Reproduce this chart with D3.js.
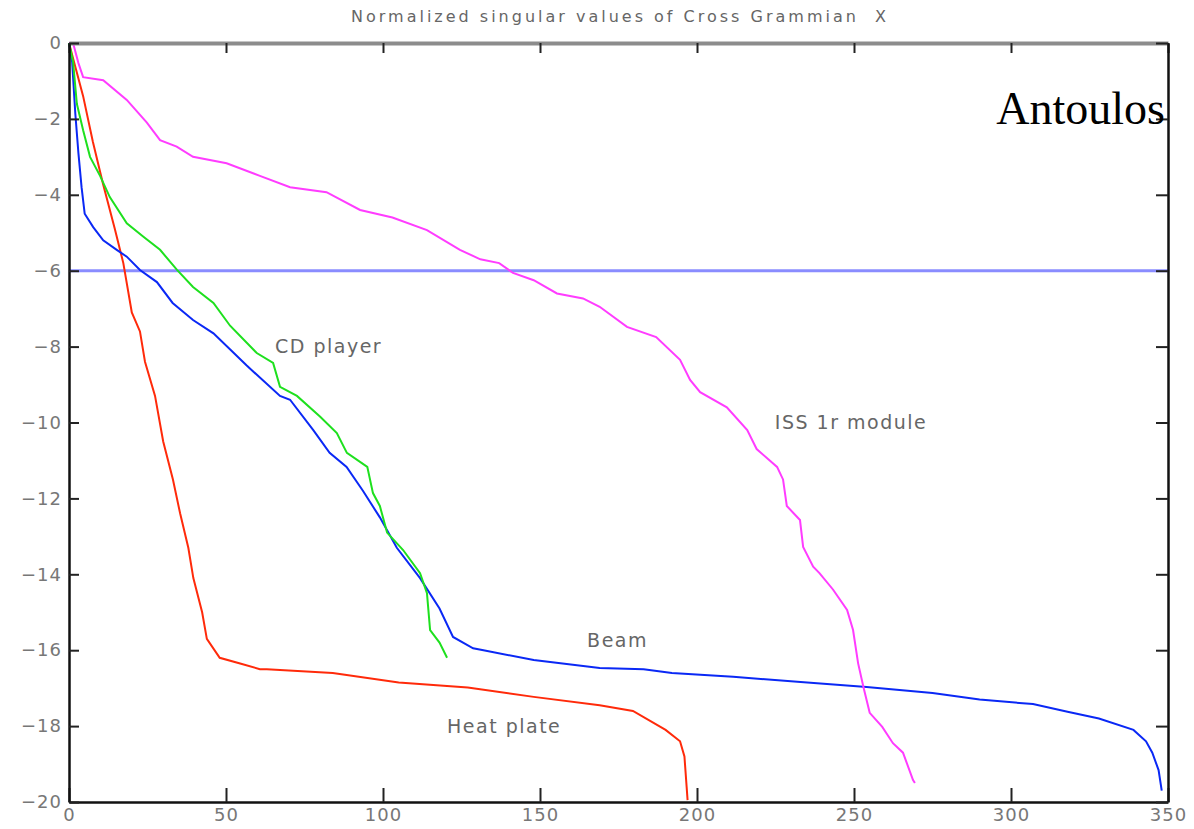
<!DOCTYPE html>
<html>
<head>
<meta charset="utf-8">
<script src="https://cdn.jsdelivr.net/npm/d3@7"></script>
<style>
  body { margin: 0; background: #fff; }
  svg { font-family: "DejaVu Sans", sans-serif; }
</style>
</head>
<body>
<div id="chart"></div>
<script>
// values: [index, log10 of normalized singular value]
const heatPlate = [[0,0],[4.5,-1.4],[7.6,-2.6],[10.8,-3.7],[14.6,-4.9],[17.3,-5.8],[20,-7.1],[22.6,-7.6],[24.2,-8.4],
  [27.4,-9.3],[30,-10.5],[33.1,-11.5],[35.4,-12.4],[38,-13.3],[39.6,-14.1],[42.4,-15.0],[43.9,-15.7],[48,-16.2],
  [54.5,-16.35],[60.8,-16.5],[63,-16.5],[84,-16.6],[105,-16.85],[127,-16.98],[148,-17.23],[169,-17.45],[179.6,-17.6],
  [190,-18.1],[194.6,-18.4],[196,-18.8],[196.7,-19.6],[197,-19.95]];
const beam = [[0,0],[1,-0.5],[2,-1.85],[3,-2.9],[4,-3.8],[5,-4.5],[7.7,-4.85],[10.9,-5.2],[15.2,-5.45],[18.4,-5.63],
  [22.6,-5.98],[28,-6.3],[33,-6.85],[39.5,-7.3],[46,-7.65],[56.6,-8.5],[67.2,-9.3],[70.4,-9.4],[77.8,-10.2],[83,-10.8],
  [88.4,-11.17],[93.6,-11.8],[99,-12.5],[104.4,-13.3],[111.8,-14.1],[118,-14.9],[122.3,-15.65],[128.7,-15.95],
  [132,-16.0],[148,-16.26],[169,-16.47],[183,-16.5],[192,-16.6],[211.5,-16.7],[233,-16.84],[254,-16.97],[275,-17.13],
  [290,-17.3],[307,-17.42],[318,-17.62],[328,-17.8],[339,-18.1],[343,-18.4],[345,-18.7],[347,-19.16],[348,-19.7]];
const cdPlayer = [[0,0],[1.3,-0.5],[2.5,-1.6],[4.5,-2.3],[6.7,-3.0],[9.9,-3.5],[13,-4.06],[18.4,-4.75],[23.6,-5.1],
  [29,-5.45],[34.4,-5.98],[39.5,-6.43],[46,-6.85],[51.3,-7.45],[59.8,-8.17],[65,-8.43],[67.2,-9.06],[72.6,-9.3],
  [80,-9.85],[85.3,-10.28],[88.5,-10.8],[95,-11.17],[96.8,-11.86],[99,-12.2],[101.3,-12.9],[106.4,-13.36],
  [111.8,-13.97],[114,-14.5],[115,-15.47],[118,-15.8],[120.4,-16.2]];
const issModule = [[0,0],[1.3,0],[3,-0.53],[4.5,-0.9],[10.9,-0.98],[18.4,-1.5],[24.8,-2.1],[29,-2.56],[34.3,-2.73],
  [39.5,-3.0],[50.2,-3.17],[60.8,-3.5],[70.4,-3.8],[82,-3.93],[92.7,-4.4],[103,-4.6],[114,-4.93],[124.5,-5.45],
  [131,-5.7],[137,-5.8],[141.4,-6.06],[148,-6.25],[155.4,-6.6],[163.7,-6.73],[169,-6.95],[177.7,-7.48],[187,-7.75],
  [194.6,-8.35],[197.8,-8.88],[201,-9.2],[209.5,-9.6],[216,-10.2],[219,-10.7],[225.5,-11.17],[227.4,-11.5],
  [228.6,-12.2],[232.8,-12.57],[233.8,-13.28],[237,-13.8],[239,-13.97],[243.3,-14.4],[247.8,-14.94],[249.7,-15.47],
  [251.3,-16.34],[253,-16.97],[255,-17.65],[259,-18.02],[262.4,-18.45],[265.6,-18.7],[268.8,-19.42],[269.4,-19.5]];
const threshold = -6;
const xTicks = [0, 50, 100, 150, 200, 250, 300, 350];
const yTicks = [0, -2, -4, -6, -8, -10, -12, -14, -16, -18, -20];

const W = 1194, H = 829;
const margin = { top: 43, right: 26, bottom: 27, left: 69 };
const width = W - margin.left - margin.right;
const height = H - margin.top - margin.bottom;

const svg = d3.select('#chart').append('svg').attr('width', W).attr('height', H);
const g = svg.append('g').attr('transform', `translate(${margin.left},${margin.top})`);

const x = d3.scaleLinear().domain([0, 350]).range([0, width]);
const y = d3.scaleLinear().domain([-20, 0]).range([height, 0]);

// title
svg.append('text').attr('x', 620).attr('y', 22).attr('text-anchor', 'middle')
  .attr('font-size', 16).attr('letter-spacing', 3).attr('fill', '#666')
  .text('Normalized singular values of Cross Grammian\u00a0\u00a0X');

// threshold line
g.append('line').attr('x1', 0).attr('x2', width).attr('y1', y(threshold)).attr('y2', y(threshold))
  .attr('stroke', '#8a8cff').attr('stroke-width', 3);

// curves
const line = d3.line().x(d => x(d[0])).y(d => y(d[1]));
const series = [
  { data: heatPlate, color: '#ff2a0a' },
  { data: beam, color: '#0a28f5' },
  { data: cdPlayer, color: '#1ee01e' },
  { data: issModule, color: '#ff3cff' }
];
g.selectAll('.curve').data(series).enter().append('path')
  .attr('class', 'curve')
  .attr('d', d => line(d.data))
  .attr('fill', 'none').attr('stroke', d => d.color).attr('stroke-width', 2);

// axes
const fmt = d => d < 0 ? '\u2212' + Math.abs(d) : d;
const xb = g.append('g').attr('transform', `translate(0,${height})`)
  .call(d3.axisBottom(x).tickValues(xTicks).tickSize(-14).tickSizeOuter(0).tickPadding(6));
const xt = g.append('g')
  .call(d3.axisTop(x).tickValues(xTicks).tickSize(-10).tickSizeOuter(0).tickFormat(''));
const yl = g.append('g')
  .call(d3.axisLeft(y).tickValues(yTicks).tickSize(-10).tickSizeOuter(0).tickPadding(7).tickFormat(fmt));
const yr = g.append('g').attr('transform', `translate(${width},0)`)
  .call(d3.axisRight(y).tickValues(yTicks).tickSize(-12).tickSizeOuter(0).tickFormat(''));

[xb, xt, yl, yr].forEach(a => {
  a.attr('font-family', null);
  a.select('.domain').attr('stroke', '#111').attr('stroke-width', 2.5);
  a.selectAll('.tick line').attr('stroke', '#222').attr('stroke-width', 2);
  a.selectAll('.tick text').attr('fill', '#777').attr('font-size', 18).attr('letter-spacing', 1);
});
xt.select('.domain').attr('stroke', '#8c8c8c').attr('stroke-width', 4);

// labels
const labels = [
  { text: 'CD player', x: 65.6, y: -8.0 },
  { text: 'ISS 1r module', x: 224.8, y: -10.0 },
  { text: 'Beam', x: 165, y: -15.75 },
  { text: 'Heat plate', x: 120.4, y: -18.0 }
];
g.selectAll('.lbl').data(labels).enter().append('text')
  .attr('x', d => x(d.x)).attr('y', d => y(d.y)).attr('dy', '0.35em')
  .attr('font-size', 19).attr('letter-spacing', 1.5).attr('fill', '#666').text(d => d.text);

svg.append('text').attr('x', 1165).attr('y', 124).attr('text-anchor', 'end')
  .style('font-family', '"Liberation Serif", "DejaVu Serif", serif').attr('font-size', 46)
  .attr('fill', '#000').text('Antoulos');
</script>
</body>
</html>
